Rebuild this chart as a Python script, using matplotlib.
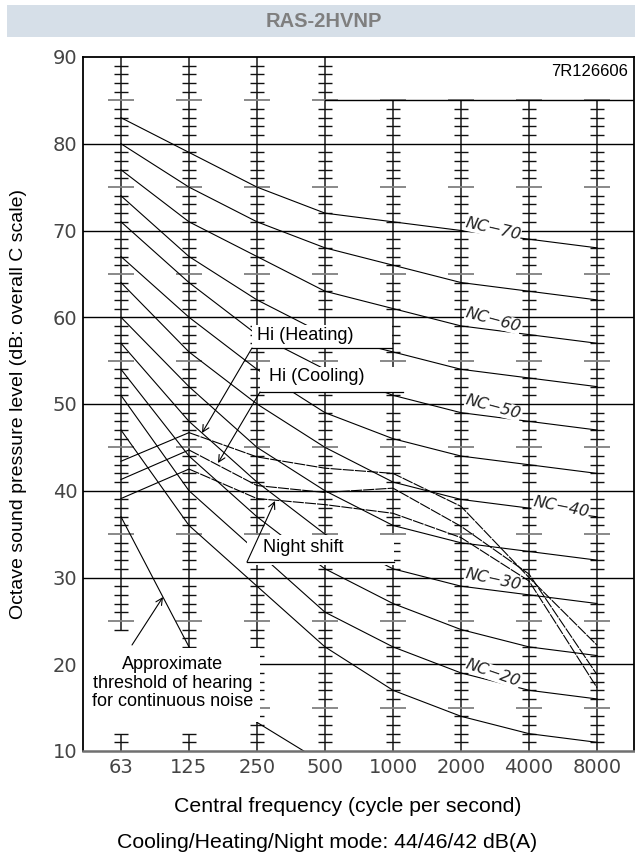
import matplotlib
matplotlib.use('Agg')
import matplotlib.pyplot as plt
from matplotlib.patches import Rectangle

# ---------------- data ----------------
bands = ['63', '125', '250', '500', '1000', '2000', '4000', '8000']
y_ticks = [10, 20, 30, 40, 50, 60, 70, 80, 90]

nc15 = [47, 36, 29, 22, 17, 14, 12, 11]
nc20 = [51, 40, 33, 26, 22, 19, 17, 16]
nc25 = [54, 44, 37, 31, 27, 24, 22, 21]
nc30 = [57, 48, 41, 35, 31, 29, 28, 27]
nc35 = [60, 52, 45, 40, 36, 34, 33, 32]
nc40 = [64, 56, 50, 45, 41, 39, 38, 37]
nc45 = [67, 60, 54, 49, 46, 44, 43, 42]
nc50 = [71, 64, 58, 54, 51, 49, 48, 47]
nc55 = [74, 67, 62, 58, 56, 54, 53, 52]
nc60 = [77, 71, 67, 63, 61, 59, 58, 57]
nc65 = [80, 75, 71, 68, 66, 64, 63, 62]
nc70 = [83, 79, 75, 72, 71, 70, 69, 68]
nc_curves = [nc15, nc20, nc25, nc30, nc35, nc40, nc45, nc50, nc55, nc60, nc65, nc70]
nc_label_names = ['NC−70', 'NC−60', 'NC−50', 'NC−40', 'NC−30', 'NC−20']

heating = [43.4, 46.7, 43.9, 42.6, 42.0, 38.2, 30.0, 22.2]
cooling = [41.3, 44.7, 40.6, 39.8, 40.3, 35.9, 30.4, 18.8]
night = [39.1, 42.5, 39.1, 38.4, 37.4, 34.6, 29.6, 17.3]
threshold = [37, 22, 13.3, 8.5]

title = 'RAS-2HVNP'
code = '7R126606'
xlabel = 'Central frequency (cycle per second)'
ylabel = 'Octave sound pressure level (dB: overall C scale)'
mode_text = 'Cooling/Heating/Night mode: 44/46/42 dB(A)'

# ------------- layout helpers (pixel -> data) -------------
W, H = 635, 858
def X(px):
    return (px - 121) / 68.0
def Y(py):
    return 10 + (751 - py) / 8.675

fig = plt.figure(figsize=(W / 100, H / 100), dpi=100)
fig.patch.set_facecolor('white')
ax = fig.add_axes([83 / W, (H - 751) / H, 551 / W, 694 / H])
ax.set_xlim(X(83), X(634))
ax.set_ylim(10, 90)

# title band
fig.patches.append(Rectangle((7 / W, 1 - 37 / H), 628 / W, 32 / H,
                             transform=fig.transFigure, facecolor='#d6dfe8',
                             edgecolor='none', zorder=0))
fig.text(324 / W, 1 - 21.5 / H, title, ha='center', va='center',
         fontsize=14.5, fontweight='bold', color='#7f7f7f',
         family='Liberation Sans')

# ---------------- ladders ----------------
lad_col = '#3a3a3a'
short_w = 7 / 68.0
long_w = 13 / 68.0
ladder_ranges = {0: [(24, 90), (10, 12)], 1: [(22, 90), (10, 12)],
                 2: [(10, 90)], 3: [(10, 90)], 4: [(10, 85)], 5: [(10, 85)],
                 6: [(10, 85)], 7: [(10, 85)]}
for i, segs in ladder_ranges.items():
    for lo, hi in segs:
        ax.plot([i, i], [lo, hi], color=lad_col, lw=1.3, zorder=1,
                solid_capstyle='butt')
        for v in range(lo, hi + 1):
            if v % 10 == 0:
                continue
            if v % 5 == 0:
                ax.plot([i - long_w, i + long_w], [v, v], color='#808080',
                        lw=1.3, zorder=1, solid_capstyle='butt')
            else:
                ax.plot([i - short_w, i + short_w], [v, v], color='#111111',
                        lw=1.0, zorder=1, solid_capstyle='butt')

# horizontal grid lines
for v in [20, 30, 40, 50, 60, 70, 80]:
    ax.plot([X(83), X(634)], [v, v], color='black', lw=1.0, zorder=1)
ax.plot([3, X(634)], [85, 85], color='black', lw=1.0, zorder=1)

xs = list(range(len(bands)))
# NC curves
for c in nc_curves:
    ax.plot(xs, c, color='black', lw=0.8, zorder=2)

# threshold curve
ax.plot(xs[:len(threshold)], threshold, color='black', lw=0.8, zorder=2)

# unit curves
for c in [heating, cooling, night]:
    ax.plot(xs[:2], c[:2], color='black', lw=0.8, zorder=2)
    ax.plot(xs[1:], c[1:], color='black', lw=0.8, zorder=2,
            linestyle=(0, (10, 1.0)))

# ---------------- white label boxes ----------------
def wbox(x0, x1, y0, y1):
    ax.add_patch(Rectangle((X(x0), Y(y1)), X(x1) - X(x0), Y(y0) - Y(y1),
                           facecolor='white', edgecolor='none', zorder=3))

ann_font = dict(family='Liberation Sans', fontsize=13, color='black', zorder=5)

# threshold box
wbox(83, 260, 648, 722)
ax.text(X(173), Y(683), 'Approximate\nthreshold of hearing\nfor continuous noise',
        ha='center', va='center', linespacing=1.12, **ann_font)
ax.annotate('', xy=(X(163), Y(597)), xytext=(X(132), Y(645)),
            arrowprops=dict(arrowstyle='->', lw=0.8, color='black',
                            shrinkA=0, shrinkB=0, mutation_scale=12), zorder=5)

# callouts: (box x0, x1, top, underline y, text x, text y, tip x, tip y, text)
callouts = [
    (252, 392, 325, 348, 257, 335, 202, 433, 'Hi (Heating)'),
    (260, 403, 367, 392, 269, 377, 218, 463, 'Hi (Cooling)'),
    (247, 394, 535, 562, 263, 548, 275, 501, 'Night shift'),
]
for x0, x1, top, ul, tx, ty, ax_, ay_, txt in callouts:
    wbox(x0, x1, top, ul + 3 if txt == 'Night shift' else ul)
    ax.plot([X(x0), X(x1)], [Y(ul), Y(ul)], color='black', lw=0.9, zorder=5)
    ax.text(X(tx), Y(ty), txt, ha='left', va='center', **ann_font)
    ax.annotate('', xy=(X(ax_), Y(ay_)), xytext=(X(x0), Y(ul)),
                arrowprops=dict(arrowstyle='->', lw=0.8, color='black',
                                shrinkA=0, shrinkB=0, mutation_scale=12),
                zorder=5)

# NC labels
nc_pos = [(493, 229, -13), (493, 320, -15), (493, 407, -15),
          (561, 507, -11), (493, 579, -12), (493, 673, -19)]
for name, (px, py, rot) in zip(nc_label_names, nc_pos):
    ax.text(X(px), Y(py), name, ha='center', va='center', rotation=rot,
            rotation_mode='anchor', fontsize=11.5, style='oblique',
            family='DejaVu Sans', color='#222222', zorder=6,
            bbox=dict(boxstyle='square,pad=0.02', facecolor='white',
                      edgecolor='none'))

# code text
ax.text(X(628), Y(71), code, ha='right', va='center',
        family='Liberation Sans', fontsize=12, color='black', zorder=5)

# ---------------- axes styling ----------------
for s in ['left', 'top', 'right']:
    ax.spines[s].set_color('black')
    ax.spines[s].set_linewidth(1.3)
ax.spines['bottom'].set_color('#707070')
ax.spines['bottom'].set_linewidth(1.8)
for s in ax.spines.values():
    s.set_zorder(7)

ax.set_xticks(xs)
ax.set_xticklabels(bands, family='DejaVu Sans', fontsize=14, color='#444444')
ax.set_yticks(y_ticks)
ax.set_yticklabels([str(v) for v in y_ticks], family='DejaVu Sans',
                   fontsize=14, color='#444444')
ax.tick_params(axis='both', length=0)
ax.tick_params(axis='x', pad=5)
ax.tick_params(axis='y', pad=4)

fig.text(19 / W, 1 - 404 / H, ylabel, rotation=90, ha='center', va='center',
         family='Liberation Sans', fontsize=14)
fig.text(348 / W, 1 - 807 / H, xlabel, ha='center', va='center',
         family='Liberation Sans', fontsize=15.3)
fig.text(327 / W, 1 - 843 / H, mode_text, ha='center', va='center',
         family='Liberation Sans', fontsize=15.3)

fig.savefig('out.png', dpi=100, facecolor='white')
